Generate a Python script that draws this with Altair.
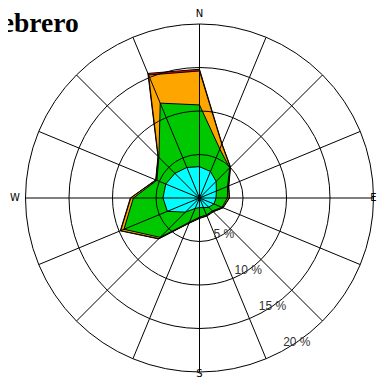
import math
import altair as alt
import pandas as pd

# ---- data ----
directions = ["N", "NNE", "NE", "ENE", "E", "ESE", "SE", "SSE",
              "S", "SSW", "SW", "WSW", "W", "WNW", "NW", "NNW"]
angles = [0, 22.5, 45, 67.5, 90, 112.5, 135, 157.5,
          180, 202.5, 225, 247.5, 270, 292.5, 315, 337.5]
red_vals = [14.8, 6.75, 5.05, 3.65, 3.45, 2.95, 2.25, 2.25,
            2.35, 3.15, 6.65, 9.85, 7.95, 5.45, 6.75, 15.5]
orange_vals = [14.6, 6.7, 5.0, 3.6, 3.4, 2.9, 2.2, 2.2,
               2.3, 3.1, 6.6, 9.8, 7.9, 5.4, 6.7, 15.3]
green_vals = [10.7, 6.1, 4.9, 3.5, 3.2, 2.8, 2.1, 2.1,
              2.2, 3.0, 6.4, 9.4, 7.6, 5.3, 6.6, 11.8]
cyan_vals = [3.6, 3.3, 2.7, 2.1, 1.9, 1.8, 1.5, 1.2,
             1.1, 1.3, 2.3, 4.0, 4.2, 4.2, 4.0, 3.8]
ring_vals = [5, 10, 15, 20]
ring_labels = ["5 %", "10 %", "15 %", "20 %"]
compass_labels = ["N", "E", "S", "W"]
compass_angles = [0, 90, 180, 270]
title_text = "Febrero"

# ---- layout ----
W, H = 369, 371
CX, CY = 191.5, 190.0
K = 8.7  # pixels per percent
xdom = [-CX / K, (W - CX) / K]
ydom = [-(H - CY) / K, CY / K]
xs = alt.Scale(domain=xdom, nice=False, zero=False)
ys = alt.Scale(domain=ydom, nice=False, zero=False)
RMAX = 20

def poly(vals, color):
    df = pd.DataFrame({"dir": directions, "ang": angles, "v": vals,
                       "i": list(range(len(vals)))})
    return (alt.Chart(df)
            .transform_calculate(px="datum.v*sin(datum.ang*PI/180)",
                                 py="datum.v*cos(datum.ang*PI/180)")
            .mark_line(interpolate="linear-closed", fill=color, stroke="black",
                       strokeWidth=1, strokeJoin="miter")
            .encode(x=alt.X("px:Q", scale=xs, axis=None),
                    y=alt.Y("py:Q", scale=ys, axis=None),
                    order="i:Q"))

layers = [poly(red_vals, "#ff0000"), poly(orange_vals, "#ffa500"),
          poly(green_vals, "#00c800"), poly(cyan_vals, "#00ffff")]

ring_df = pd.DataFrame({"r": ring_vals})
rings = (alt.Chart(ring_df)
         .mark_arc(stroke="black", strokeWidth=1, fillOpacity=0,
                   theta=0, theta2=2 * math.pi)
         .encode(radius=alt.Radius("r:Q", stack=None,
                                   scale=alt.Scale(type="linear", domain=[0, RMAX],
                                                   range=[0, RMAX * K], zero=True)),
                 x=alt.datum(0, scale=xs), y=alt.datum(0, scale=ys)))

spoke_df = pd.DataFrame({"ang": angles})
spokes = (alt.Chart(spoke_df)
          .transform_calculate(x0="0", y0="0",
                               x1=f"{RMAX}*sin(datum.ang*PI/180)",
                               y1=f"{RMAX}*cos(datum.ang*PI/180)")
          .mark_rule(color="black", strokeWidth=1)
          .encode(x=alt.X("x0:Q", scale=xs), y=alt.Y("y0:Q", scale=ys),
                  x2="x1:Q", y2="y1:Q"))

lab_df = pd.DataFrame({"r": ring_vals, "lab": ring_labels})
ring_text = (alt.Chart(lab_df)
             .transform_calculate(px="datum.r*sin(146*PI/180)",
                                  py="datum.r*cos(146*PI/180)")
             .mark_text(font="Liberation Sans", fontSize=12, color="#333333",
                        align="center", baseline="middle")
             .encode(x=alt.X("px:Q", scale=xs), y=alt.Y("py:Q", scale=ys),
                     text="lab:N"))

comp_df = pd.DataFrame({"lab": compass_labels, "ang": compass_angles})
comp_text = (alt.Chart(comp_df)
             .transform_calculate(
                 rr="datum.lab=='E' ? 20.0 : (datum.lab=='S' ? 20.2 : 21.2)",
                 px="datum.rr*sin(datum.ang*PI/180)",
                 py="datum.rr*cos(datum.ang*PI/180)")
             .mark_text(font="DejaVu Sans", fontSize=10, color="black",
                        align="center", baseline="middle")
             .encode(x=alt.X("px:Q", scale=xs), y=alt.Y("py:Q", scale=ys),
                     text="lab:N"))

title = (alt.Chart(pd.DataFrame({"t": [title_text]}))
         .mark_text(font="Liberation Serif", fontSize=27.5, fontWeight="bold",
                    color="black", align="left", baseline="alphabetic")
         .encode(x=alt.value(-23), y=alt.value(24), text="t:N"))

chart = (alt.layer(*layers, rings, spokes, ring_text, comp_text, title)
         .properties(width=W, height=H, padding=0,
                     autosize=alt.AutoSizeParams(type="none"))
         .configure_view(strokeWidth=0))

chart.save("out.html", embed_options={"renderer": "svg", "actions": False})
